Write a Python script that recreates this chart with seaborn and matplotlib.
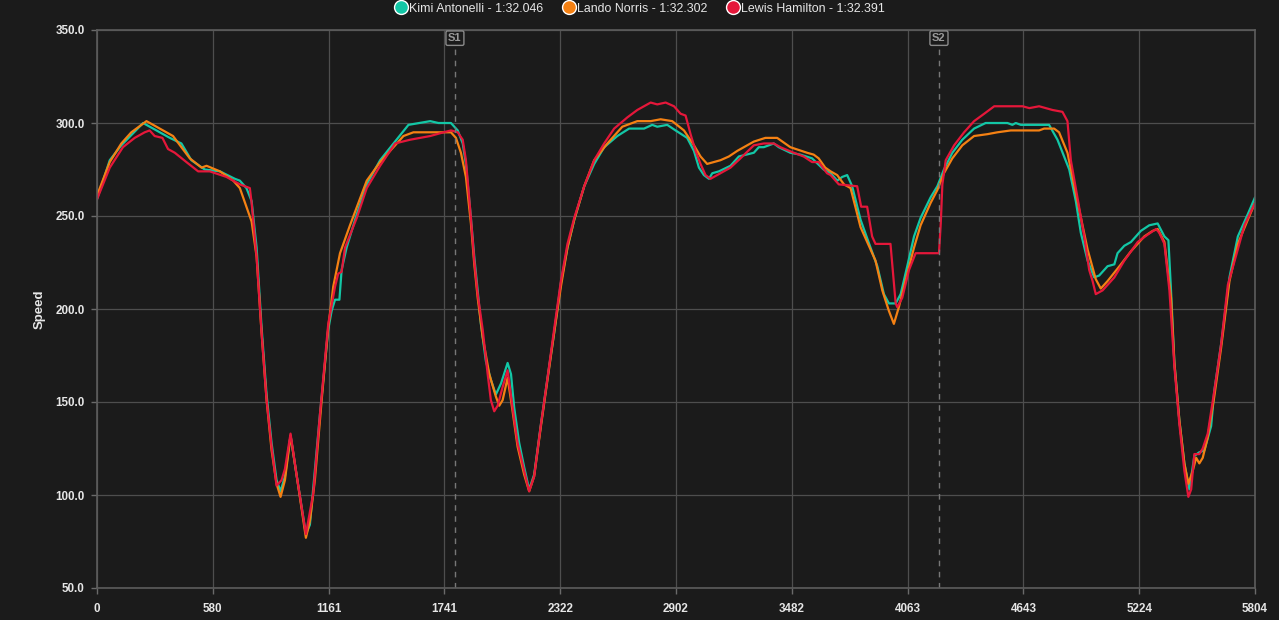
import numpy as np
import pandas as pd
import matplotlib
matplotlib.use("Agg")
import matplotlib.pyplot as plt
from matplotlib.lines import Line2D
import seaborn as sns

# ---------------- data ----------------
drivers = ["Kimi Antonelli - 1:32.046", "Lando Norris - 1:32.302", "Lewis Hamilton - 1:32.391"]
colors = ["#13c7a6", "#f58113", "#e5173a"]

ant_dist = [0, 64, 122, 231, 315, 365, 423, 473, 540, 616, 691, 716, 749, 775, 800, 825, 850, 875, 900, 920,
            942, 970, 1000, 1047, 1067, 1118, 1159, 1176, 1193, 1215, 1226, 1251, 1302, 1352, 1419, 1486, 1561,
            1670, 1711, 1774, 1808, 1833, 1849, 1874, 1891, 1908, 1924, 1949, 1974, 1999, 2025, 2058, 2075, 2091,
            2116, 2141, 2166, 2191, 2225, 2258, 2291, 2325, 2358, 2392, 2442, 2492, 2542, 2608, 2667, 2742, 2783,
            2808, 2858, 2900, 2958, 2992, 3017, 3042, 3067, 3084, 3117, 3175, 3217, 3292, 3317, 3342, 3392, 3417,
            3475, 3525, 3584, 3642, 3677, 3710, 3735, 3760, 3785, 3827, 3877, 3911, 3944, 3969, 4003, 4028, 4061,
            4095, 4128, 4178, 4212, 4245, 4287, 4337, 4396, 4454, 4563, 4588, 4605, 4630, 4772, 4814, 4873, 4906,
            4931, 4965, 4998, 5023, 5065, 5099, 5115, 5149, 5182, 5232, 5274, 5316, 5350, 5370, 5383, 5400, 5425,
            5450, 5475, 5500, 5525, 5550, 5584, 5600, 5634, 5676, 5718, 5768, 5804]
ant_speed = [259, 280, 288, 300, 295, 292, 289, 280, 275, 274, 270, 269, 265, 258, 233, 190, 154, 128, 108, 102,
             110, 132, 111, 79, 84, 144, 189, 199, 205, 205, 221, 233, 251, 267, 280, 289, 299,
             301, 300, 300, 296, 289, 278, 249, 228, 210, 192, 172, 162, 154, 160, 171, 165, 147,
             128, 115, 103, 111, 138, 163, 187, 214, 233, 248, 266, 278, 287, 293, 297, 297, 299,
             298, 299, 296, 292, 285, 276, 272, 270, 273, 274, 277, 282, 284, 287, 287, 289, 287,
             284, 283, 281, 275, 273, 269, 271, 272, 266, 248, 233, 223, 208, 203, 203, 208, 223,
             239, 249, 260, 266, 275, 284, 291, 297, 300, 300, 299, 300, 299, 299, 291, 275, 258,
             241, 226, 217, 218, 223, 224, 230, 234, 236, 242, 245, 246, 239, 237, 210, 171, 140,
             117, 103, 121, 123, 124, 137, 156, 181, 217, 239, 251, 260]

nor_dist = [0, 64, 122, 172, 248, 315, 381, 465, 524, 549, 616, 683, 716, 775, 800, 825, 850, 875, 900, 920,
            942, 970, 1000, 1026, 1047, 1067, 1092, 1126, 1159, 1184, 1218, 1268, 1352, 1419, 1486, 1536, 1586,
            1670, 1774, 1799, 1824, 1849, 1874, 1891, 1908, 1933, 1966, 1999, 2016, 2033, 2058, 2083, 2108, 2141,
            2166, 2191, 2225, 2258, 2291, 2325, 2358, 2392, 2442, 2492, 2558, 2633, 2708, 2775, 2825, 2883, 2942,
            2992, 3025, 3058, 3125, 3167, 3209, 3292, 3350, 3409, 3475, 3559, 3592, 3617, 3650, 3677, 3710, 3744,
            3777, 3827, 3877, 3902, 3936, 3969, 3994, 4019, 4061, 4095, 4128, 4178, 4212, 4245, 4287, 4337, 4396,
            4463, 4513, 4580, 4722, 4747, 4797, 4822, 4864, 4914, 4965, 5006, 5031, 5065, 5132, 5182, 5249, 5291,
            5316, 5350, 5383, 5400, 5425, 5450, 5470, 5492, 5509, 5525, 5542, 5567, 5600, 5634, 5676, 5718, 5768,
            5804]
nor_speed = [261, 279, 289, 295, 301, 297, 293, 281, 276, 277, 274, 269, 265, 247, 228, 187, 151, 124, 106, 99,
             108, 132, 111, 92, 77, 86, 108, 151, 190, 212, 230, 245, 269, 279, 287, 293, 295,
             295, 295, 292, 284, 271, 246, 224, 206, 185, 165, 153, 148, 151, 163, 145, 126, 111,
             102, 110, 137, 162, 187, 212, 233, 248, 266, 280, 289, 298, 301, 301, 302, 301, 296,
             288, 282, 278, 280, 282, 285, 290, 292, 292, 287, 284, 283, 281, 276, 274, 272, 267,
             265, 244, 232, 226, 210, 199, 192, 201, 219, 233, 245, 257, 264, 273, 281, 288, 293,
             294, 295, 296, 296, 297, 297, 295, 284, 258, 232, 216, 211, 215, 224, 231, 239, 242,
             243, 236, 206, 171, 140, 117, 106, 113, 120, 117, 120, 131, 153, 179, 215, 235, 248,
             257]

ham_dist = [0, 64, 130, 189, 239, 264, 289, 328, 356, 390, 448, 507, 565, 649, 716, 766, 775, 800, 825, 850,
            875, 900, 925, 942, 970, 1000, 1047, 1084, 1118, 1159, 1193, 1209, 1226, 1243, 1302, 1352, 1419,
            1494, 1569, 1670, 1737, 1774, 1808, 1833, 1849, 1874, 1891, 1908, 1933, 1958, 1974, 1991, 2008, 2033,
            2058, 2083, 2108, 2141, 2166, 2191, 2225, 2258, 2291, 2325, 2358, 2392, 2442, 2492, 2542, 2592, 2658,
            2708, 2742, 2775, 2808, 2850, 2892, 2925, 2950, 2975, 3000, 3025, 3050, 3075, 3108, 3175, 3225, 3292,
            3342, 3392, 3425, 3492, 3542, 3584, 3617, 3659, 3677, 3718, 3810, 3830, 3860, 3885, 3902, 3977, 4003,
            4011, 4036, 4070, 4103, 4220, 4229, 4237, 4254, 4296, 4346, 4396, 4447, 4497, 4639, 4673, 4722, 4789,
            4839, 4864, 4881, 4914, 4948, 4973, 4990, 5006, 5040, 5099, 5149, 5216, 5266, 5308, 5324, 5350, 5375,
            5400, 5425, 5450, 5470, 5484, 5500, 5525, 5542, 5567, 5600, 5634, 5668, 5710, 5751, 5804]
ham_speed = [259, 276, 287, 292, 295, 296, 293, 292, 286, 284, 279, 274, 274, 271, 267, 265, 257, 228, 187, 151,
             126, 105, 108, 114, 133, 111, 79, 101, 144, 192, 212, 219, 220, 233, 249, 265, 277,
             289, 291, 293, 295, 296, 295, 291, 280, 249, 226, 208, 189, 165, 151, 145, 148, 158,
             167, 147, 128, 113, 102, 110, 138, 163, 189, 215, 235, 249, 266, 280, 289, 297, 303,
             307, 309, 311, 310, 311, 309, 305, 304, 294, 285, 278, 272, 270, 272, 276, 281, 288,
             289, 289, 287, 284, 282, 279, 279, 273, 272, 267, 266, 255, 255, 239, 235, 235, 203,
             201, 206, 221, 230, 230, 246, 267, 280, 288, 295, 301, 305, 309, 309, 308, 309, 307,
             306, 301, 280, 260, 239, 221, 215, 208, 210, 217, 226, 236, 240, 243, 241, 235, 210,
             169, 138, 113, 99, 103, 122, 122, 125, 133, 156, 181, 213, 229, 245, 257]

sector_names = ["S1", "S2"]
sector_dist = [1794, 4220]

track_length = 5804
y_ticks = [50, 100, 150, 200, 250, 300, 350]

# ---------------- frame ----------------
frames = []
for name, d, s in zip(drivers, [ant_dist, nor_dist, ham_dist], [ant_speed, nor_speed, ham_speed]):
    frames.append(pd.DataFrame({"Distance": d, "Speed": s, "Driver": name}))
df = pd.concat(frames, ignore_index=True)

# ---------------- plot ----------------
BG = "#1b1b1b"
GRID = "#4e4e4e"
TXT = "#e6e6e6"

sns.set_theme(style="dark")
plt.rcParams["font.family"] = ["Liberation Sans", "DejaVu Sans"]

fig = plt.figure(figsize=(12.79, 6.2), dpi=100, facecolor=BG)
ax = fig.add_axes([97 / 1279, 32 / 620, 1158 / 1279, 558 / 620])
ax.set_facecolor(BG)

sns.lineplot(data=df, x="Distance", y="Speed", hue="Driver", palette=dict(zip(drivers, colors)),
             estimator=None, sort=False, linewidth=1.6, legend=False, ax=ax)

ax.set_xlim(0, track_length)
ax.set_ylim(50, 350)
xt = [track_length * i / 10 for i in range(11)]
ax.set_xticks(xt)
ax.set_xticklabels([str(int(round(v))) for v in xt])
ax.set_yticks(y_ticks)
ax.set_yticklabels([f"{v:.1f}" for v in y_ticks])
ax.tick_params(axis="both", colors="#6a6a6a", labelcolor=TXT, labelsize=8.4, length=4, width=1,
               bottom=True, left=True)
ax.tick_params(axis="x", pad=7)
ax.tick_params(axis="y", pad=5)
for lab in ax.get_xticklabels() + ax.get_yticklabels():
    lab.set_fontweight("bold")

ax.grid(True, color=GRID, linewidth=0.9)
for sp in ax.spines.values():
    sp.set_color("#5c5c5c")
    sp.set_linewidth(1.2)

ax.set_xlabel("")
ax.set_ylabel("Speed", color=TXT, fontsize=9.5, fontweight="bold", labelpad=7)

for nm, dx in zip(sector_names, sector_dist):
    ax.axvline(dx, color="#777777", linewidth=1, linestyle=(0, (4, 4)), ymax=0.985)
    ax.text(dx, 348.3, nm, ha="center", va="top", fontsize=8, fontweight="bold", color="#9a9a9a",
            bbox=dict(boxstyle="round,pad=0.2,rounding_size=0.15", facecolor=BG, edgecolor="#8a8a8a",
                      linewidth=1), zorder=5)

handles = [Line2D([0], [0], marker="o", linestyle="none", markersize=10, markerfacecolor=c,
                  markeredgecolor="white", markeredgewidth=1.0) for c in colors]
leg = fig.legend(handles, drivers, loc="center", bbox_to_anchor=(0.5, 1 - 8.5 / 620),
                 bbox_transform=fig.transFigure, ncol=3, frameon=False,
                 fontsize=8.9, handletextpad=0.05, handlelength=1.15, columnspacing=1.55, borderaxespad=0.0)
for t in leg.get_texts():
    t.set_color(TXT)

fig.savefig("out.png", dpi=100, facecolor=BG)
